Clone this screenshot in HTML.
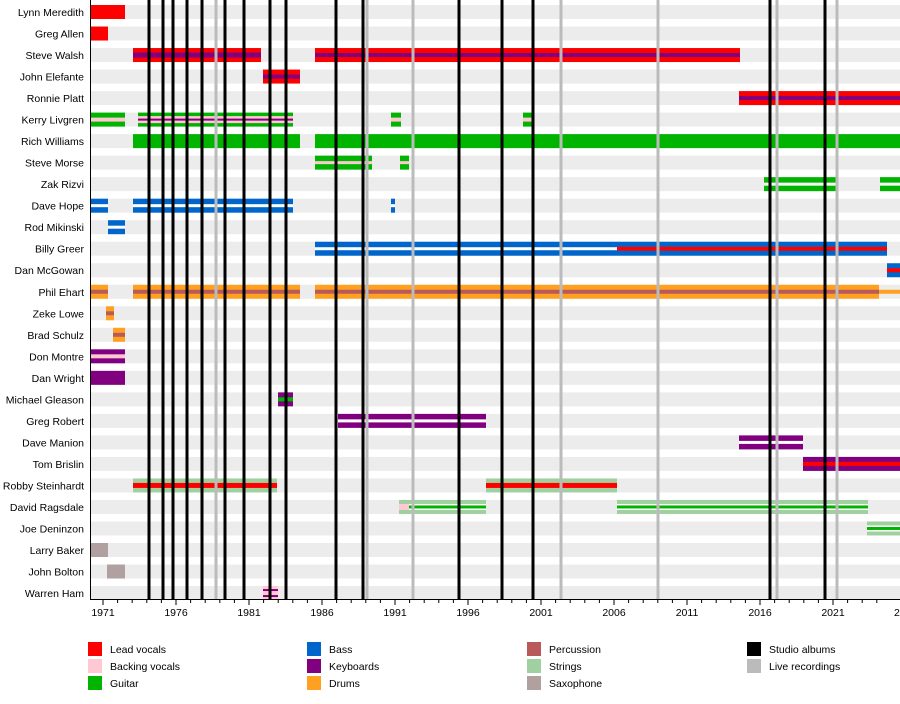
<!DOCTYPE html>
<html><head><meta charset="utf-8"><style>
body{margin:0;background:#fff}
text{font-family:"Liberation Sans",sans-serif;font-size:10.5px;fill:#000}
</style></head><body>
<svg width="900" height="699" xmlns="http://www.w3.org/2000/svg">
<g id="bands" fill="#ececec"></g>
<g id="bars"></g>
<g id="vl"></g>
<line x1="90.5" y1="0" x2="90.5" y2="600" stroke="#000"/>
<line x1="90" y1="599.5" x2="900" y2="599.5" stroke="#000"/>
<g id="ticks"></g>
<g id="names" text-anchor="end"></g>
<g id="legend"></g>
</svg>
<script>
(function(){
const NS="http://www.w3.org/2000/svg";
function el(p,t,a,txt){const e=document.createElementNS(NS,t);for(const k in a)e.setAttribute(k,a[k]);if(txt!==undefined)e.textContent=txt;document.getElementById(p).appendChild(e);return e;}
const names=["Lynn Meredith","Greg Allen","Steve Walsh","John Elefante","Ronnie Platt","Kerry Livgren","Rich Williams","Steve Morse","Zak Rizvi","Dave Hope","Rod Mikinski","Billy Greer","Dan McGowan","Phil Ehart","Zeke Lowe","Brad Schulz","Don Montre","Dan Wright","Michael Gleason","Greg Robert","Dave Manion","Tom Brislin","Robby Steinhardt","David Ragsdale","Joe Deninzon","Larry Baker","John Bolton","Warren Ham"];
const rt=i=>5+i*21.52;
names.forEach((n,i)=>{el("bands","rect",{x:91,y:rt(i),width:809,height:14});el("names","text",{x:84,y:rt(i)+11},n);});
const R="#ff0000",P="#ffc8d2",G="#00b400",B="#0066cc",K="#800080",D="#ffa020",PC="#b85a5a",S="#a0d0a0",SX="#b0a0a0",W="#ffffff";
function bar(i,x1,x2,outer,layers){const t=rt(i);el("bars","rect",{x:x1,y:t,width:x2-x1,height:14,fill:outer});
 (layers||[]).forEach(([c,h])=>el("bars","rect",{x:x1,y:t+7-h/2,width:x2-x1,height:h,fill:c}));}
bar(0,91,125,R);bar(1,91,108,R);
bar(2,133,261,R,[[K,5]]);bar(2,315,740,R,[[K,4]]);
bar(3,263,300,R,[[K,4]]);
bar(4,739,900,R,[[K,4]]);
bar(5,91,125,G,[[P,4]]);bar(5,138,293,G,[[P,7],[K,2]]);bar(5,391,401,G,[[P,4]]);bar(5,523,533,G,[[P,4]]);
bar(6,133,300,G);bar(6,315,900,G);
bar(7,315,372,G,[[P,3]]);bar(7,400,409,G,[[P,3]]);
bar(8,764,837,G,[[W,3]]);bar(8,880,900,G,[[W,3]]);
bar(9,91,108,B,[[W,3]]);bar(9,133,293,B,[[W,3]]);bar(9,391,395,B,[[W,3]]);
bar(10,108,125,B,[[W,3]]);
bar(11,315,617,B,[[W,3]]);bar(11,617,887,B,[[R,4]]);
bar(12,887,900,B,[[R,4]]);
bar(13,91,108,D,[[PC,4]]);bar(13,133,300,D,[[PC,4]]);bar(13,315,879,D,[[PC,4]]);el("bars","rect",{x:879,y:rt(13)+5,width:21,height:4,fill:D});
bar(14,106,114,D,[[PC,4]]);bar(15,113,125,D,[[PC,4]]);
bar(16,91,125,K,[[P,4]]);bar(17,91,125,K);
bar(18,278,293,K,[[G,4]]);
bar(19,338,486,K,[[W,3]]);bar(20,739,803,K,[[W,3]]);bar(21,803,900,K,[[R,4]]);
bar(22,133,277,S,[[R,5]]);bar(22,486,617,S,[[R,5]]);
bar(23,399,486,S,[[W,6],[G,3]]);bar(23,399,409,S,[[P,6]]);bar(23,617,868,S,[[W,6],[G,3]]);
bar(24,867,900,S,[[W,6],[G,3]]);
bar(25,91,108,SX);bar(26,107,125,SX);
bar(27,263,278,P,[[K,8],[P,4]]);
[216,367,413,561,658,777,837].forEach(x=>el("vl","rect",{x:x-1.5,y:0,width:3,height:599,fill:"#bbbbbb"}));
[149,163,173,187,202,225,244,270,286,336,363,459,502,533,770,825].forEach(x=>el("vl","rect",{x:x-1.5,y:0,width:3,height:599,fill:"#000"}));
const X=y=>103+(y-1971)*14.6;
for(let y=1970;y<=2024;y++){const x=X(y);if(x<90||x>900)continue;const maj=(y-1971)%5==0;el("ticks","line",{x1:x,y1:600,x2:x,y2:maj?605:603,stroke:"#000"});
 if(maj)el("ticks","text",{x:x,y:616,"text-anchor":"middle"},String(y));}
el("ticks","text",{x:894,y:616},"2");
const leg=[[88,649,R,"Lead vocals"],[88,666,P,"Backing vocals"],[88,683,G,"Guitar"],[307,649,B,"Bass"],[307,666,K,"Keyboards"],[307,683,D,"Drums"],[527,649,PC,"Percussion"],[527,666,S,"Strings"],[527,683,SX,"Saxophone"],[747,649,"#000","Studio albums"],[747,666,"#bbbbbb","Live recordings"]];
leg.forEach(([x,y,c,t])=>{el("legend","rect",{x:x,y:y-7,width:14,height:14,fill:c});el("legend","text",{x:x+22,y:y+4},t);});
})();
</script>
</body></html>
